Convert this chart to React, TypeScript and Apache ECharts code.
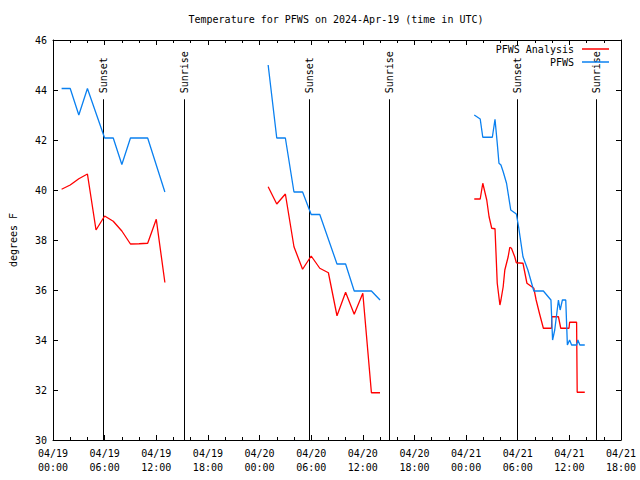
import React, { useEffect, useRef } from "react";
import * as echarts from "echarts";

const titleText = "Temperature for PFWS on 2024-Apr-19 (time in UTC)";
const yAxisName = "degrees F";
const xTickLabels = [
  "04/19\n00:00", "04/19\n06:00", "04/19\n12:00", "04/19\n18:00",
  "04/20\n00:00", "04/20\n06:00", "04/20\n12:00", "04/20\n18:00",
  "04/21\n00:00", "04/21\n06:00", "04/21\n12:00", "04/21\n18:00",
];

// time in hours since 04/19 00:00 UTC
const pfwsT1 = [1, 2, 3, 4, 6, 7, 8, 9, 10, 11, 13];
const pfwsV1 = [44.06, 44.06, 43.0, 44.06, 42.08, 42.08, 41.02, 42.08, 42.08, 42.08, 39.92];
const pfwsT2 = [25, 26, 27, 28, 29, 30, 31, 33, 34, 35, 36, 37, 38];
const pfwsV2 = [45.0, 42.08, 42.08, 39.92, 39.92, 39.02, 39.02, 37.04, 37.04, 35.96, 35.96, 35.96, 35.6];
const pfwsT3 = [48.95, 49.64, 49.94, 51.05, 51.36, 51.62, 51.82, 52.05, 52.31, 52.7, 53.19, 53.84, 54.1, 54.61, 55.18, 55.87, 56.98, 57.86, 58.05, 58.3, 58.73, 58.93, 59.19, 59.58, 59.77, 60.03, 60.26, 60.84, 60.99, 61.22, 61.79];
const pfwsV3 = [43.0, 42.84, 42.11, 42.11, 42.83, 41.87, 41.07, 41.0, 40.73, 40.27, 39.2, 39.04, 38.53, 37.33, 36.8, 35.96, 35.96, 35.6, 34.0, 34.4, 35.6, 35.2, 35.6, 35.6, 33.8, 34.0, 33.8, 33.8, 34.0, 33.8, 33.8];

const anaT1 = [1, 2, 3, 4, 5, 6, 7, 8, 9, 10, 11, 12, 13];
const anaV1 = [40.03, 40.2, 40.45, 40.64, 38.4, 38.96, 38.75, 38.36, 37.84, 37.85, 37.87, 38.83, 36.3];
const anaT2 = [25, 26, 27, 28, 29, 30, 31, 32, 33, 34, 35, 36, 37, 38];
const anaV2 = [40.13, 39.44, 39.84, 37.73, 36.83, 37.36, 36.87, 36.69, 34.97, 35.91, 35.03, 35.87, 31.89, 31.89];
const anaT3 = [48.95, 49.64, 49.94, 50.4, 50.67, 50.98, 51.36, 51.47, 51.62, 51.93, 52.05, 52.31, 52.5, 52.89, 53.08, 53.27, 53.65, 53.84, 54.61, 55.07, 55.87, 56.14, 56.52, 56.98, 57.93, 57.95, 58.73, 59.0, 59.96, 60.03, 60.84, 60.91, 61.79];
const anaV3 = [39.64, 39.64, 40.27, 39.6, 38.93, 38.47, 38.45, 37.53, 36.27, 35.4, 35.6, 36.13, 36.8, 37.33, 37.71, 37.67, 37.33, 37.09, 37.07, 36.27, 36.07, 35.6, 35.07, 34.47, 34.47, 34.93, 34.93, 34.47, 34.47, 34.71, 34.71, 31.91, 31.91];

const sunTimes = [5.83, 15.23, 29.79, 39.08, 53.92, 63.05];
const sunLabels = ["Sunset", "Sunrise", "Sunset", "Sunrise", "Sunset", "Sunrise"];
const sunLineTop = 43.63;

const FONT = "DejaVu Sans Mono";

function joinSegments(segs: [number[], number[]][]) {
  const out: (number | null)[][] = [];
  segs.forEach(([t, v], i) => {
    if (i > 0) out.push([(t[0] + out[out.length - 1][0]!) / 2, null]);
    t.forEach((tt, j) => out.push([tt, v[j]]));
  });
  return out;
}

export default function App() {
  const ref = useRef<HTMLDivElement>(null);
  useEffect(() => {
    if (!ref.current) return;
    const chart = echarts.init(ref.current, null, { renderer: "svg" });
    const axisCommon = {
      type: "value" as const,
      axisLine: { show: true, onZero: false, lineStyle: { color: "#000", width: 1 } },
      splitLine: { show: false },
    };
    chart.setOption({
      animation: false,
      backgroundColor: "#fff",
      textStyle: { fontFamily: FONT },
      title: {
        text: titleText,
        left: 331,
        textAlign: "center",
        top: 9,
        textStyle: { fontFamily: FONT, fontSize: 10, fontWeight: "normal", color: "#000" },
      },
      grid: { left: 46, right: 19, top: 40, bottom: 40, containLabel: false },
      legend: {
        data: ["PFWS Analysis", "PFWS"],
        orient: "vertical",
        right: 26,
        top: 39,
        align: "right",
        icon: "rect",
        itemWidth: 27,
        itemHeight: 1.5,
        itemGap: 3,
        textStyle: { fontFamily: FONT, fontSize: 10, color: "#000", padding: [0, 3, 0, 0] },
      },
      xAxis: [
        {
          ...axisCommon,
          position: "bottom",
          min: 0,
          max: 66,
          interval: 6,
          axisTick: { show: true, inside: true, length: 5, lineStyle: { color: "#000" } },
          minorTick: { show: true, splitNumber: 3, length: 3, lineStyle: { color: "#000" } },
          axisLabel: {
            color: "#000",
            fontFamily: FONT,
            fontSize: 10,
            lineHeight: 14,
            margin: 6,
            formatter: (v: number) => xTickLabels[Math.round(v / 6)],
          },
        },
        {
          ...axisCommon,
          position: "top",
          min: 0,
          max: 66,
          interval: 6,
          axisTick: { show: true, inside: true, length: 5, lineStyle: { color: "#000" } },
          minorTick: { show: true, splitNumber: 3, length: 3, lineStyle: { color: "#000" } },
          axisLabel: { show: false },
        },
      ],
      yAxis: [
        {
          ...axisCommon,
          position: "left",
          min: 30,
          max: 46,
          interval: 2,
          name: yAxisName,
          nameLocation: "middle",
          nameGap: 35,
          nameTextStyle: { fontFamily: FONT, fontSize: 10, color: "#000" },
          axisTick: { show: true, inside: true, length: 5, lineStyle: { color: "#000" } },
          axisLabel: { color: "#000", fontFamily: FONT, fontSize: 10, margin: 6 },
        },
        {
          ...axisCommon,
          position: "right",
          min: 30,
          max: 46,
          interval: 2,
          axisTick: { show: true, inside: true, length: 5, lineStyle: { color: "#000" } },
          axisLabel: { show: false },
        },
      ],
      series: [
        {
          name: "PFWS Analysis",
          type: "line",
          data: joinSegments([[anaT1, anaV1], [anaT2, anaV2], [anaT3, anaV3]]),
          showSymbol: false,
          symbol: "none",
          connectNulls: false,
          color: "#ff0000",
          lineStyle: { color: "#ff0000", width: 1.3 },
          z: 3,
        },
        {
          name: "PFWS",
          type: "line",
          data: joinSegments([[pfwsT1, pfwsV1], [pfwsT2, pfwsV2], [pfwsT3, pfwsV3]]),
          showSymbol: false,
          symbol: "none",
          connectNulls: false,
          color: "#0a80f0",
          lineStyle: { color: "#0a80f0", width: 1.3 },
          z: 4,
        },
        {
          name: "sun",
          type: "custom",
          silent: true,
          data: sunTimes.map((t) => [t, sunLineTop]),
          encode: { x: 0, y: 1 },
          z: 2,
          renderItem: (params: any, api: any) => {
            const h = api.value(0);
            const top = api.coord([h, sunLineTop]);
            const bot = api.coord([h, 30]);
            const x = Math.round(top[0]) + 0.5;
            return {
              type: "group",
              children: [
                {
                  type: "line",
                  shape: { x1: x, y1: top[1], x2: x, y2: bot[1] },
                  style: { stroke: "#000", lineWidth: 1 },
                },
                {
                  type: "text",
                  x: x,
                  y: top[1] - 6,
                  rotation: Math.PI / 2,
                  style: {
                    text: sunLabels[params.dataIndex],
                    fill: "#000",
                    fontFamily: FONT,
                    fontSize: 10,
                    align: "left",
                    verticalAlign: "middle",
                  },
                },
              ],
            };
          },
        },
      ],
    });
    return () => chart.dispose();
  }, []);
  return (
    <div
      ref={ref}
      style={{ position: "fixed", left: 0, top: 0, width: 640, height: 480 }}
    />
  );
}
